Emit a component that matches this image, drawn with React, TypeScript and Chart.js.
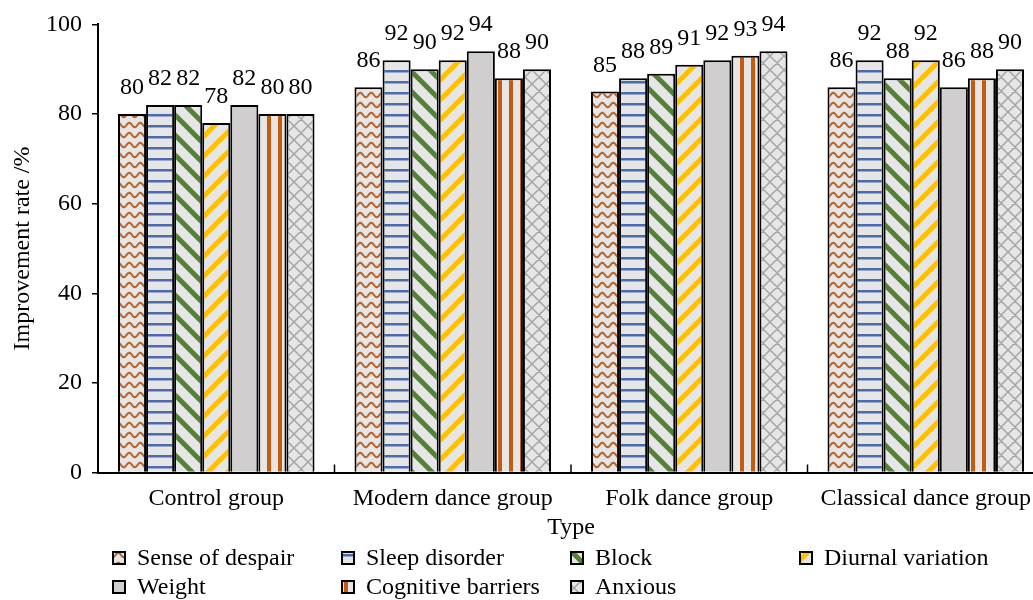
import React, { useEffect, useRef } from "react";
import { Chart, registerables } from "chart.js";

Chart.register(...registerables);

const categories = ["Control group", "Modern dance group", "Folk dance group", "Classical dance group"];
const seriesNames = ["Sense of despair", "Sleep disorder", "Block", "Diurnal variation", "Weight", "Cognitive barriers", "Anxious"];
const senseOfDespair = [80, 86, 85, 86];
const sleepDisorder = [82, 92, 88, 92];
const block = [82, 90, 89, 88];
const diurnalVariation = [78, 92, 91, 92];
const weight = [82, 94, 92, 86];
const cognitiveBarriers = [80, 88, 93, 88];
const anxious = [80, 90, 94, 90];
const yTicks = [0, 20, 40, 60, 80, 100];

const FONT = "'Liberation Serif', 'Times New Roman', serif";
const BG = "#E7E6E6";

function tile(w: number, h: number, draw: (g: CanvasRenderingContext2D, w: number, h: number) => void): CanvasPattern {
  const c = document.createElement("canvas");
  c.width = w;
  c.height = h;
  const g = c.getContext("2d")!;
  g.fillStyle = BG;
  g.fillRect(0, 0, w, h);
  draw(g, w, h);
  return g.createPattern(c, "repeat")!;
}

function makePatterns(): (CanvasPattern | string)[] {
  const wave = tile(11, 10, (g, w) => {
    g.strokeStyle = "#B5672F";
    g.lineWidth = 2;
    g.beginPath();
    for (let x = -1; x <= w + 1; x += 0.5) {
      const y = 5 + 2.2 * Math.sin((x / w) * Math.PI * 2);
      if (x === -1) g.moveTo(x, y);
      else g.lineTo(x, y);
    }
    g.stroke();
  });
  const hlines = tile(4, 11, (g) => {
    g.fillStyle = "#4A6CAF";
    g.fillRect(0, 4, 4, 2.5);
  });
  const diagDown = tile(20, 20, (g, s) => {
    g.strokeStyle = "#548235";
    g.lineWidth = 5;
    g.beginPath();
    for (const k of [-s, 0, s]) {
      g.moveTo(k - 2, -2);
      g.lineTo(k + s + 2, s + 2);
    }
    g.stroke();
  });
  const diagUp = tile(20, 20, (g, s) => {
    g.strokeStyle = "#FFC000";
    g.lineWidth = 5;
    g.beginPath();
    for (const k of [-s, 0, s]) {
      g.moveTo(k - 2, s + 2);
      g.lineTo(k + s + 2, -2);
    }
    g.stroke();
  });
  const vlines = tile(11, 4, (g) => {
    g.fillStyle = "#C55A11";
    g.fillRect(3, 0, 4, 4);
  });
  const cross = tile(14, 14, (g, s) => {
    g.strokeStyle = "#A5A5A5";
    g.lineWidth = 1.5;
    g.beginPath();
    for (const k of [-s, 0, s]) {
      g.moveTo(k - 1, -1);
      g.lineTo(k + s + 1, s + 1);
      g.moveTo(k - 1, s + 1);
      g.lineTo(k + s + 1, -1);
    }
    g.stroke();
  });
  return [wave, hlines, diagDown, diagUp, "#D0CECE", vlines, cross];
}

const valueLabels = {
  id: "valueLabels",
  afterDatasetsDraw(chart: any) {
    const ctx = chart.ctx;
    ctx.save();
    ctx.font = `24px ${FONT}`;
    ctx.fillStyle = "#000";
    ctx.textAlign = "center";
    ctx.textBaseline = "alphabetic";
    chart.data.datasets.forEach((ds: any, di: number) => {
      const meta = chart.getDatasetMeta(di);
      meta.data.forEach((el: any, i: number) => {
        ctx.fillText(String(ds.data[i]), el.x, el.y - 20);
      });
    });
    ctx.restore();
  },
};

const categoryTicks = {
  id: "categoryTicks",
  afterDraw(chart: any) {
    const xs = chart.scales.x;
    const ctx = chart.ctx;
    const n = categories.length;
    const cw = (xs.right - xs.left) / n;
    ctx.save();
    ctx.strokeStyle = "#000";
    ctx.lineWidth = 1.5;
    ctx.beginPath();
    for (let i = 1; i < n; i++) {
      const b = xs.getPixelForValue(i) - cw / 2;
      ctx.moveTo(b, xs.top);
      ctx.lineTo(b, xs.top - 8);
    }
    ctx.stroke();
    ctx.restore();
  },
};

const customLegend = {
  id: "customLegend",
  afterDraw(chart: any) {
    const ctx = chart.ctx;
    const colX = [113, 342, 571, 800];
    const rowY = [559, 588];
    ctx.save();
    ctx.font = `24px ${FONT}`;
    ctx.textAlign = "left";
    ctx.textBaseline = "middle";
    chart.data.datasets.forEach((ds: any, i: number) => {
      const col = i < 4 ? i : i - 4;
      const row = i < 4 ? 0 : 1;
      const x = colX[col];
      const y = rowY[row];
      ctx.fillStyle = ds.backgroundColor;
      ctx.fillRect(x, y - 7, 12, 12);
      ctx.strokeStyle = "#000";
      ctx.lineWidth = 2;
      ctx.strokeRect(x, y - 7, 12, 12);
      ctx.fillStyle = "#000";
      ctx.fillText(ds.label, x + 24, y);
    });
    ctx.restore();
  },
};

export default function App() {
  const ref = useRef<HTMLCanvasElement | null>(null);

  useEffect(() => {
    if (!ref.current) return;
    const patterns = makePatterns();
    const series = [senseOfDespair, sleepDisorder, block, diurnalVariation, weight, cognitiveBarriers, anxious];
    const chart = new Chart(ref.current, {
      type: "bar",
      data: {
        labels: categories,
        datasets: series.map((d, i) => ({
          label: seriesNames[i],
          data: d,
          backgroundColor: patterns[i] as any,
          borderColor: "#000",
          borderWidth: 2,
          categoryPercentage: 0.831,
          barPercentage: 1.0,
        })),
      },
      options: {
        responsive: false,
        animation: false,
        devicePixelRatio: 1,
        layout: { padding: { top: 22.5, bottom: 58, left: 0, right: 0 } },
        font: { family: FONT, size: 24 } as any,
        plugins: {
          legend: { display: false },
          tooltip: { enabled: false },
        },
        scales: {
          x: {
            grid: { display: false, drawTicks: false, tickLength: 0 },
            border: { display: true, color: "#000", width: 2 },
            ticks: { color: "#000", padding: 12, font: { family: FONT, size: 24 }, maxRotation: 0, autoSkip: false },
            title: { display: true, text: "Type", color: "#000", font: { family: FONT, size: 24 }, padding: { top: 0, bottom: 0 } },
            afterFit(scale: any) {
              scale.height = 69.5;
            },
          },
          y: {
            min: 0,
            max: 100,
            afterBuildTicks(scale: any) {
              scale.ticks = yTicks.map((v) => ({ value: v }));
            },
            grid: { display: true, drawOnChartArea: false, drawTicks: true, tickLength: 6, color: "#000", lineWidth: 1.5 },
            border: { display: true, color: "#000", width: 2 },
            ticks: { color: "#000", padding: 10, font: { family: FONT, size: 24 } },
            title: { display: true, text: "Improvement rate /%", color: "#000", font: { family: FONT, size: 24 }, padding: { top: 8.6, bottom: 0 } },
            afterFit(scale: any) {
              scale.width = 98;
            },
          },
        },
      },
      plugins: [valueLabels, categoryTicks, customLegend],
    });
    return () => chart.destroy();
  }, []);

  return (
    <div style={{ position: "fixed", left: 0, top: 0, width: 1033, height: 600, overflow: "hidden", background: "#fff" }}>
      <canvas ref={ref} width={1044} height={600} style={{ width: 1044, height: 600, display: "block" }} />
    </div>
  );
}
